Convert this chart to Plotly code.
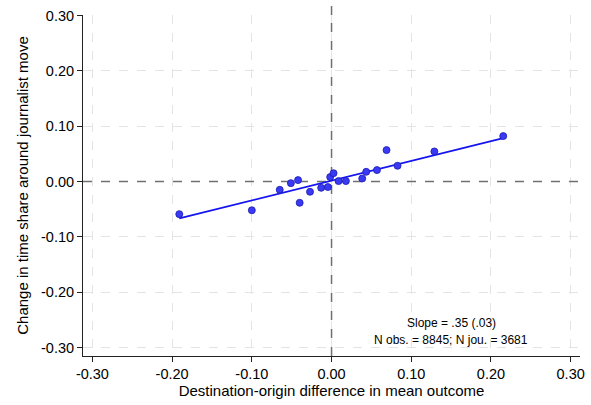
import plotly.graph_objects as go

# Binned scatter points
x_diff = [-0.191, -0.100, -0.065, -0.051, -0.042, -0.040, -0.027, -0.013, -0.0046,
          -0.0017, 0.0025, 0.0088, 0.018, 0.0385, 0.0435, 0.057, 0.069, 0.0828,
          0.129, 0.2154]
y_change = [-0.059, -0.052, -0.015, -0.003, 0.0025, -0.0385, -0.0186, -0.0114, -0.010,
            0.008, 0.015, 0.0007, 0.0007, 0.0055, 0.0175, 0.0206, 0.0567, 0.0284,
            0.0543, 0.082]

# Fitted line parameters
fit_slope = 0.357
fit_intercept = 0.0015

tick_vals = [-0.30, -0.20, -0.10, 0.00, 0.10, 0.20, 0.30]
tick_text = ["-0.30", "-0.20", "-0.10", "0.00", "0.10", "0.20", "0.30"]

x_title = "Destination-origin difference in mean outcome"
y_title = "Change in time share around journalist move"
note_lines = ["Slope = .35 (.03)", "N obs. = 8845; N jou. = 3681"]

x_range = [-0.3118, 0.3117]
y_range = [-0.3154, 0.3009]

xmin, xmax = min(x_diff), max(x_diff)
fit_x = [xmin, xmax]
fit_y = [fit_intercept + fit_slope * v for v in fit_x]

ref_dash = dict(color="#707070", width=1.5, dash="dash")

fig = go.Figure()
# reference lines at zero (under the data)
fig.add_trace(go.Scatter(
    x=x_range, y=[0, 0], mode="lines", line=ref_dash,
    showlegend=False, hoverinfo="skip"))
fig.add_trace(go.Scatter(
    x=[0, 0], y=y_range, mode="lines", line=ref_dash,
    showlegend=False, hoverinfo="skip"))
fig.add_trace(go.Scatter(
    x=fit_x, y=fit_y, mode="lines",
    line=dict(color="#1414f0", width=1.6), showlegend=False, hoverinfo="skip"))
fig.add_trace(go.Scatter(
    x=x_diff, y=y_change, mode="markers",
    marker=dict(color="#3a3af5", size=7, line=dict(color="#1a1ab0", width=0.8)),
    showlegend=False))

font_family = "Liberation Sans, Arial, Helvetica, sans-serif"

plot_left, plot_right, plot_top, plot_bottom = 83, 580, 15, 356


def dom_x(px):
    return (px - plot_left) / (plot_right - plot_left)


def dom_y(py):
    return (plot_bottom - py) / (plot_bottom - plot_top)


fig.update_layout(
    width=591, height=405,
    margin=dict(l=plot_left, r=591 - plot_right, t=plot_top, b=405 - plot_bottom),
    paper_bgcolor="white", plot_bgcolor="white",
    font=dict(family=font_family, size=14.5, color="#000"),
    xaxis=dict(
        range=x_range, tickvals=tick_vals, ticktext=tick_text,
        tickfont=dict(size=14.5, color="#000"),
        showgrid=True, gridcolor="#e4e4e4", griddash="dash", gridwidth=1,
        zeroline=False, showline=True, linecolor="#222", linewidth=1,
        ticks="outside", ticklen=5, tickcolor="#222", automargin=False,
        title=dict(text=x_title, font=dict(size=15, color="#000"), standoff=3),
    ),
    yaxis=dict(
        range=y_range, tickvals=tick_vals, ticktext=tick_text,
        tickfont=dict(size=14.5, color="#000"),
        showgrid=True, gridcolor="#e4e4e4", griddash="dash", gridwidth=1,
        zeroline=False, showline=True, linecolor="#222", linewidth=1,
        ticks="outside", ticklen=5, tickcolor="#222", automargin=False,
        title=dict(text=y_title, font=dict(size=15, color="#000"), standoff=8),
    ),
    shapes=[
        # short extension of the vertical zero line above the plot area
        dict(type="line", xref="x", yref="paper", x0=0, x1=0, y0=1.0, y1=1.027,
             line=ref_dash, layer="below"),
    ],
    annotations=[
        dict(text=note_lines[0], x=dom_x(451), y=dom_y(323), xref="x domain",
             yref="y domain", xanchor="center", yanchor="middle",
             showarrow=False, font=dict(size=12, color="#000")),
        dict(text=note_lines[1], x=dom_x(451), y=dom_y(340), xref="x domain",
             yref="y domain", xanchor="center", yanchor="middle",
             showarrow=False, font=dict(size=12, color="#000")),
    ],
)

fig.write_html(
    "out.html",
    config={"displayModeBar": False},
    post_script="document.body.style.margin='0';document.body.style.overflow='hidden';",
)
